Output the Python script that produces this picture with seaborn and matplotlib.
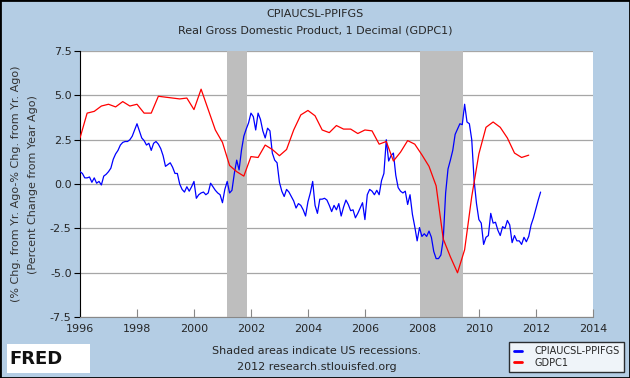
import numpy as np
import pandas as pd
import matplotlib
matplotlib.use("Agg")
import matplotlib.pyplot as plt
import seaborn as sns
from matplotlib.patches import Rectangle

# monthly CPI yoy minus PPI finished goods yoy, Jan 1996 .. Mar 2012
cpi_ppi = [0.7, 0.6, 0.35, 0.35, 0.4, 0.1, 0.35, 0.05, 0.15, -0.05,
           0.45, 0.55, 0.7, 0.9, 1.4, 1.7, 1.9, 2.2, 2.35, 2.4,
           2.4, 2.5, 2.7, 3.05, 3.4, 3.0, 2.6, 2.45, 2.2, 2.3,
           1.9, 2.3, 2.4, 2.25, 2.0, 1.6, 1.0, 1.1, 1.2, 0.95,
           0.6, 0.6, 0.0, -0.3, -0.45, -0.15, -0.4, -0.15, 0.15, -0.8,
           -0.6, -0.5, -0.45, -0.6, -0.5, 0.05, -0.15, -0.35, -0.5, -0.6,
           -1.05, -0.3, 0.15, -0.5, -0.35, 0.6, 1.35, 0.8, 1.9, 2.7,
           3.1, 3.45, 4.0, 3.8, 3.05, 4.0, 3.65, 3.0, 2.6, 3.15,
           3.0, 1.75, 1.35, 1.2, 0.1, -0.4, -0.7, -0.3, -0.45, -0.7,
           -0.95, -1.35, -1.1, -1.2, -1.45, -1.8, -1.0, -0.5, 0.15, -1.2,
           -1.65, -0.85, -0.85, -0.8, -0.9, -1.2, -1.55, -1.2, -1.45, -1.1,
           -1.8, -1.3, -0.9, -1.15, -1.5, -1.45, -1.9, -1.65, -1.35, -1.05,
           -2.0, -0.6, -0.3, -0.4, -0.6, -0.35, -0.6, 0.2, 0.6, 2.5,
           1.3, 1.6, 1.75, 0.5, -0.2, -0.4, -0.5, -0.4, -1.15, -0.6,
           -1.7, -2.4, -3.2, -2.45, -2.95, -2.8, -2.95, -2.65, -3.0, -3.8,
           -4.2, -4.2, -4.0, -3.1, -0.5, 0.85, 1.35, 1.9, 2.8, 3.1,
           3.4, 3.35, 4.5, 3.5, 3.4, 2.5, 0.2, -1.1, -2.0, -2.2,
           -3.4, -3.0, -2.9, -1.65, -2.2, -2.15, -2.6, -2.9, -2.4, -2.5,
           -2.05, -2.3, -3.3, -2.9, -3.2, -3.2, -3.4, -3.0, -3.25, -2.95,
           -2.3, -1.9, -1.4, -0.9, -0.45]

# quarterly real GDP yoy, 1996Q1 .. 2011Q4
gdp = [2.6, 4.0, 4.1, 4.4, 4.5, 4.35, 4.65, 4.4,
       4.5, 4.0, 4.0, 4.95, 4.9, 4.85, 4.8, 4.85,
       4.2, 5.35, 4.2, 3.05, 2.35, 1.05, 0.7, 0.45,
       1.55, 1.5, 2.2, 1.95, 1.6, 1.95, 3.05, 3.9,
       4.15, 3.85, 3.05, 2.9, 3.3, 3.1, 3.1, 2.85,
       3.05, 3.0, 2.25, 2.4, 1.3, 1.8, 2.45, 2.25,
       1.65, 1.0, -0.1, -3.1, -4.1, -5.0, -3.7, -0.7,
       1.7, 3.2, 3.5, 3.2, 2.6, 1.75, 1.5, 1.63]

recessions = [(2001.17, 2001.85), (2007.92, 2009.46)]
year_ticks = list(range(1996, 2015, 2))
value_ticks = [-7.5, -5.0, -2.5, 0.0, 2.5, 5.0, 7.5]

monthly = pd.DataFrame({"date": 1996 + np.arange(len(cpi_ppi)) / 12.0,
                        "value": cpi_ppi})
quarterly = pd.DataFrame({"date": 1996 + np.arange(len(gdp)) / 4.0,
                          "value": gdp})

sns.set_style("white")
plt.rcParams["font.family"] = ["DejaVu Sans"]

bg = "#B4CDE4"
fig = plt.figure(figsize=(6.3, 3.78), dpi=100, facecolor=bg)
ax = fig.add_axes([0.127, 0.161, 0.814, 0.704])
ax.set_facecolor("white")

for start, end in recessions:
    ax.axvspan(start, end, color="#BEBEBE", lw=0, zorder=1)

for v in value_ticks:
    ax.axhline(v, color="#A6A6A6", lw=0.9, zorder=0.5)

sns.lineplot(data=monthly, x="date", y="value", color="#0000FF",
             lw=0.9, ax=ax, zorder=3)
sns.lineplot(data=quarterly, x="date", y="value", color="#FF0000",
             lw=0.9, ax=ax, zorder=3)

ax.set_xlim(1996, 2014)
ax.set_ylim(-7.5, 7.5)
ax.set_xticks(year_ticks)
ax.set_yticks(value_ticks)
ax.set_yticklabels(["%.1f" % v for v in value_ticks])
ax.set_xlabel("")
ax.set_ylabel("")
ax.tick_params(axis="y", direction="out", length=4, width=0.8,
               color="black", labelsize=8, pad=2, left=True)
ax.tick_params(axis="x", direction="in", length=6, width=0.8,
               color="#888888", labelsize=8, pad=5, bottom=True)

for side in ["top", "right"]:
    ax.spines[side].set_visible(False)
ax.spines["left"].set_color("black")
ax.spines["bottom"].set_color("#888888")

fig.text(0.5, 0.962, "CPIAUCSL-PPIFGS", ha="center", va="center", fontsize=8)
fig.text(0.5, 0.92, "Real Gross Domestic Product, 1 Decimal (GDPC1)",
         ha="center", va="center", fontsize=8)

fig.text(0.025, 0.513, "(% Chg. from Yr. Ago-% Chg. from Yr. Ago)",
         rotation=90, ha="center", va="center", fontsize=8, color="#333333")
fig.text(0.052, 0.513, "(Percent Change from Year Ago)",
         rotation=90, ha="center", va="center", fontsize=8, color="#333333")

fig.text(0.503, 0.071, "Shaded areas indicate US recessions.",
         ha="center", va="center", fontsize=8)
fig.text(0.503, 0.029, "2012 research.stlouisfed.org",
         ha="center", va="center", fontsize=8)

# legend box
leg = ax.legend(handles=[plt.Line2D([], [], color="#0000FF", lw=2),
                         plt.Line2D([], [], color="#FF0000", lw=2)],
                labels=["CPIAUCSL-PPIFGS", "GDPC1"],
                loc="lower right", bbox_to_anchor=(0.993, 0.01),
                bbox_transform=fig.transFigure, fontsize=7,
                frameon=True, fancybox=False, edgecolor="black",
                handlelength=0.9, handletextpad=1.2, borderpad=0.45,
                labelspacing=0.15, borderaxespad=0.2)
leg.get_frame().set_linewidth(1.0)

# FRED logo
fig.patches.append(Rectangle((0.011, 0.013), 0.132, 0.077,
                             transform=fig.transFigure, facecolor="white",
                             edgecolor="none"))
fig.text(0.015, 0.05, "FRED", ha="left", va="center", fontsize=13,
         fontweight="bold", color="#111111")
logo = fig.add_axes([0.118, 0.025, 0.022, 0.05])
logo.set_facecolor("#EEEEEE")
logo.plot([0, 1, 2, 3, 4], [0, 1, 0.6, 1.8, 2.2], color="#66AA44", lw=0.8)
logo.plot([0, 1, 2, 3, 4], [0.3, 0.6, 1.2, 1.0, 2.0], color="#6688CC", lw=0.8)
logo.set_xticks([])
logo.set_yticks([])
for s in logo.spines.values():
    s.set_visible(False)

fig.patches.append(Rectangle((0, 0), 1, 1, transform=fig.transFigure,
                             fill=False, edgecolor="black", lw=2))

fig.savefig("out.png", dpi=100, facecolor=bg)
